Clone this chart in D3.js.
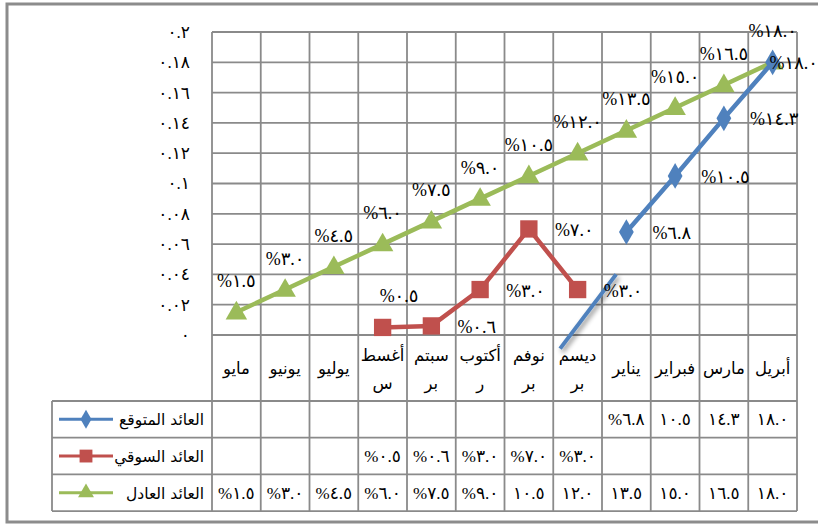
<!DOCTYPE html>
<html><head><meta charset="utf-8">
<script src="https://cdn.jsdelivr.net/npm/d3@7"></script>
<style>
html,body{margin:0;padding:0;background:#fff;}
svg{display:block;}
.num{direction:ltr;unicode-bidi:bidi-override;}
</style></head>
<body>
<script>
// ---- data ----
const months = ["مايو","يونيو","يوليو","أغسطس","سبتمبر","أكتوبر","نوفمبر","ديسمبر","يناير","فبراير","مارس","أبريل"];
const monthLines = [["مايو"],["يونيو"],["يوليو"],["أغسط","س"],["سبتم","بر"],["أكتوب","ر"],["نوفم","بر"],["ديسم","بر"],["يناير"],["فبراير"],["مارس"],["أبريل"]];
const expectedName = "العائد المتوقع";
const expectedMonths = ["يناير","فبراير","مارس","أبريل"];
const expectedValues = [0.068,0.105,0.143,0.18];
const marketName = "العائد السوقي";
const marketMonths = ["أغسطس","سبتمبر","أكتوبر","نوفمبر","ديسمبر"];
const marketValues = [0.005,0.006,0.03,0.07,0.03];
const fairName = "العائد العادل";
const fairMonths = months;
const fairValues = [0.015,0.03,0.045,0.06,0.075,0.09,0.105,0.12,0.135,0.15,0.165,0.18];
const yTicks = [0,0.02,0.04,0.06,0.08,0.1,0.12,0.14,0.16,0.18,0.2];
// stray drawn stroke in the reference (band index, value)
const strayStroke = [[7.14,-0.009],[8.29,0.040]];

// ---- helpers ----
const AR = "٠١٢٣٤٥٦٧٨٩";
const toAr = s => String(s).replace(/[0-9]/g, d => AR[+d]);
const pct = v => "%" + toAr((v*100).toFixed(1));
const tablePct = v => (v < 0.1 ? "%" : "") + toAr((v*100).toFixed(1));
const tickFmt = v => toAr(String(+v.toFixed(2)));

const W = 818, H = 525;
const svg = d3.select("body").append("svg").attr("width", W).attr("height", H);
const grid = "#8a8a8a";
const NUMFONT = "'Liberation Serif','DejaVu Sans',serif";
const ARFONT = "'DejaVu Sans',sans-serif";

// outer frame
svg.append("rect").attr("x",7).attr("y",4).attr("width",W+20).attr("height",518)
  .attr("fill","#fff").attr("stroke","#8c8c8c").attr("stroke-width",3);

const x = d3.scaleBand().domain(months).range([212,797]).padding(0);
const xi = d3.scaleLinear().domain([0,12]).range([212,797]);
const y = d3.scaleLinear().domain([0,0.2]).range([335,32]);

const tableTop = 401, rowH = 36.7;
const tableBottom = tableTop + 3*rowH;

// horizontal gridlines
svg.append("g").selectAll("line").data(yTicks).join("line")
  .attr("x1",212).attr("x2",797).attr("y1",d=>y(d)).attr("y2",d=>y(d))
  .attr("stroke",grid).attr("stroke-width",1.8);
// vertical lines
svg.append("g").selectAll("line").data(d3.range(13)).join("line")
  .attr("x1",d=>xi(d)).attr("x2",d=>xi(d)).attr("y1",y(0.2)).attr("y2",tableBottom)
  .attr("stroke",grid).attr("stroke-width",1.8);
// table rows
svg.append("g").selectAll("line").data(d3.range(4)).join("line")
  .attr("x1",52).attr("x2",797).attr("y1",d=>tableTop+d*rowH).attr("y2",d=>tableTop+d*rowH)
  .attr("stroke",grid).attr("stroke-width",1.8);
svg.append("line").attr("x1",52).attr("x2",52).attr("y1",tableTop).attr("y2",tableBottom)
  .attr("stroke",grid).attr("stroke-width",1.8);

// y axis labels
const yAxis = d3.axisLeft(y).tickValues(yTicks).tickFormat(tickFmt).tickSize(0).tickPadding(0);
const ya = svg.append("g").attr("transform","translate(190,0)").call(yAxis);
ya.select(".domain").remove();
ya.selectAll("text").attr("class","num").attr("font-family",NUMFONT).attr("font-size",17).attr("fill","#000");

// category labels
const cat = svg.append("g").selectAll("text").data(months).join("text")
  .attr("text-anchor","middle").attr("font-family",ARFONT).attr("font-size",16.5).attr("fill","#000")
  .attr("x",d=>x(d)+x.bandwidth()/2);
cat.each(function(d,i){
  const lines = monthLines[i];
  const t = d3.select(this);
  if(lines.length===1){
    t.append("tspan").attr("x",x(d)+x.bandwidth()/2).attr("y",374).text(lines[0]);
  } else {
    t.append("tspan").attr("x",x(d)+x.bandwidth()/2).attr("y",361).text(lines[0]);
    t.append("tspan").attr("x",x(d)+x.bandwidth()/2).attr("y",389).text(lines[1]);
  }
});

const series = [
  {name:expectedName, cats:expectedMonths, vals:expectedValues, color:"#4F81BD", marker:"diamond", label:"right"},
  {name:marketName, cats:marketMonths, vals:marketValues, color:"#C0504D", marker:"square", label:"right"},
  {name:fairName, cats:fairMonths, vals:fairValues, color:"#9BBB59", marker:"triangle", label:"above"}
];
const sym = {diamond:d3.symbolDiamond, square:d3.symbolSquare, triangle:d3.symbolTriangle};
const symSize = {diamond:190, square:300, triangle:200};
const cx = c => x(c)+x.bandwidth()/2;

// stray stroke with soft shadow
const defs = svg.append("defs");
const f = defs.append("filter").attr("id","sh").attr("x","-50%").attr("y","-50%").attr("width","200%").attr("height","200%");
f.append("feGaussianBlur").attr("in","SourceAlpha").attr("stdDeviation",2.5).attr("result","b");
f.append("feOffset").attr("in","b").attr("dx",2).attr("dy",3).attr("result","o");
f.append("feComponentTransfer").attr("in","o").attr("result","o2").append("feFuncA").attr("type","linear").attr("slope",0.45);
const fm = f.append("feMerge"); fm.append("feMergeNode").attr("in","o2"); fm.append("feMergeNode").attr("in","SourceGraphic");

// lines + markers
series.slice().reverse().forEach(s=>{
  const pts = s.cats.map((c,i)=>[cx(c), y(s.vals[i])]);
  svg.append("path").attr("d", d3.line()(pts)).attr("fill","none").attr("stroke",s.color)
    .attr("stroke-width",4.5).attr("stroke-linejoin","round");
  svg.append("g").selectAll("path").data(pts).join("path")
    .attr("transform",p=>`translate(${p[0]},${p[1]+(s.marker==="triangle"?1:0)})`)
    .attr("d", d3.symbol(sym[s.marker], symSize[s.marker])()).attr("fill",s.color);
});

svg.append("path").attr("d", d3.line()(strayStroke.map(p=>[xi(p[0]), y(p[1])])))
  .attr("stroke","#4F81BD").attr("stroke-width",4).attr("fill","none").attr("filter","url(#sh)");

// data labels
series.forEach(s=>{
  s.cats.forEach((c,i)=>{
    const px = cx(c), py = y(s.vals[i]);
    const t = svg.append("text").attr("class","num").attr("font-family",NUMFONT).attr("font-size",18)
      .attr("fill","#000").text(pct(s.vals[i]));
    const w = t.node().getComputedTextLength();
    if(s.label==="above"){
      t.attr("x",px).attr("y",py-25).attr("text-anchor","middle");
    } else {
      let lx = px + 26, ly = py + 7;
      if(s.name===marketName && i===0){ lx = px - 3; ly = py - 25; }
      lx = Math.min(lx, W - w);
      t.attr("x",lx).attr("y",ly);
    }
  });
});

// data table
series.forEach((s,r)=>{
  const cyRow = tableTop + r*rowH + rowH/2;
  const g = svg.append("g");
  g.append("line").attr("x1",59).attr("x2",113).attr("y1",cyRow).attr("y2",cyRow)
    .attr("stroke",s.color).attr("stroke-width",3);
  g.append("path").attr("transform",`translate(86,${cyRow})`)
    .attr("d", d3.symbol(sym[s.marker], symSize[s.marker]*0.55)()).attr("fill",s.color);
  g.append("text").attr("x",204).attr("y",cyRow+6).attr("text-anchor","end")
    .attr("font-family",ARFONT).attr("font-size",15.5).attr("fill","#000").text(s.name);
  s.cats.forEach((c,i)=>{
    g.append("text").attr("class","num").attr("x",cx(c)).attr("y",cyRow+6).attr("text-anchor","middle")
      .attr("font-family",NUMFONT).attr("font-size",17).attr("fill","#000").text(tablePct(s.vals[i]));
  });
});
</script>
</body></html>
